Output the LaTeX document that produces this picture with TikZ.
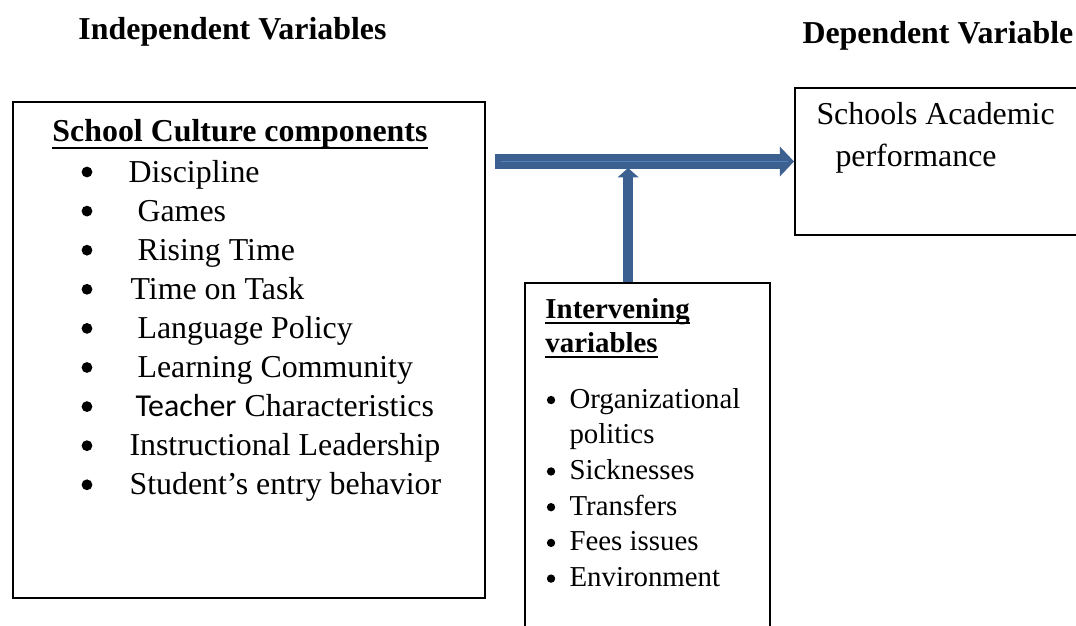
\documentclass[tikz,border=0pt]{standalone}
\usepackage{fontspec}
\setmainfont{Liberation Serif}
\newfontfamily\calibri{Carlito}
\usetikzlibrary{arrows.meta,calc}

\definecolor{arrowblue}{RGB}{60,96,144}
\definecolor{stripeblue}{RGB}{84,130,190}

\begin{document}
\begin{tikzpicture}[
  box/.style={draw, line width=0.8pt, inner sep=0pt, anchor=north west},
  txt/.style={inner sep=0pt, anchor=base west, font=\fontsize{12.6}{15}\selectfont},
  hd/.style={txt, font=\fontsize{12.6}{15}\selectfont\bfseries},
  small/.style={txt, font=\fontsize{11.4}{14}\selectfont},
  smallhd/.style={txt, font=\fontsize{11.4}{14}\selectfont\bfseries},
  uline/.style={line width=0.8pt},
  band/.style={color=arrowblue, line width=5.6pt,
    -{Triangle[length=5.6pt, width=11.8pt, line width=0pt]}},
  stem/.style={color=arrowblue, line width=3.95pt,
    -{Triangle[length=3.7pt, width=8.4pt, line width=0pt]}}]
  \useasboundingbox (0,0) rectangle (14.944,-8.694);
  \clip (0,0) rectangle (14.944,-8.694);

  % ---- column titles ----
  \node[hd] (indep) at (1.083,-0.542) {Independent Variables};
  \node[hd] (dep) at (11.139,-0.611) {Dependent Variable};

  % ---- boxes ----
  \node[box, minimum width=6.555cm, minimum height=6.889cm] (culture) at (0.167,-1.403) {};
  \node[box, minimum width=3.403cm, minimum height=4.983cm] (mediator) at (7.278,-3.917) {};
  \node[box, minimum width=4.172cm, minimum height=2.042cm] (outcome) at (11.028,-1.208) {};

  % ---- school culture list ----
  \node[hd] (cultHead) at (0.722,-1.972) {School Culture components};
  \draw[uline] ([yshift=-0.083cm]cultHead.base west) -- ([yshift=-0.083cm]cultHead.base east);
  \foreach \t/\x [count=\i] in {Discipline/1.778, Games/1.903, Rising Time/1.903,
      Time on Task/1.806, Language Policy/1.903, Learning Community/1.903,
      {{\calibri Teacher} Characteristics}/1.875, Instructional Leadership/1.792,
      Student’s entry behavior/1.792} {
    \fill (1.208,{-2.528-0.543*(\i-1)+0.139}) circle (0.075);
    \node[txt] (comp-\i) at (\x,{-2.528-0.543*(\i-1)}) {\t};
  }

  % ---- intervening list ----
  \node[smallhd] (medHead1) at (7.569,-4.417) {Intervening};
  \node[smallhd] (medHead2) at (7.569,-4.889) {variables};
  \draw[uline] ([yshift=-0.07cm]medHead1.base west) -- ([yshift=-0.07cm]medHead1.base east);
  \draw[uline] ([yshift=-0.07cm]medHead2.base west) -- ([yshift=-0.07cm]medHead2.base east);
  \foreach \t/\b [count=\i] in {Organizational/1, politics/0, Sicknesses/1,
      Transfers/1, Fees issues/1, Environment/1} {
    \ifnum\b=1
      \fill (7.653,{-5.667-0.496*(\i-1)+0.111}) circle (0.058);
    \fi
    \node[small] (med-\i) at (7.903,{-5.667-0.496*(\i-1)}) {\t};
  }

  % ---- outcome text ----
  \node[txt] (perf1) at (11.333,-1.736) {Schools Academic};
  \node[txt] (perf2) at (11.597,-2.319) {performance};

  % ---- block arrows ----
  \draw[band, postaction={draw=stripeblue, line width=0.7pt, -, shorten <=0.083cm, shorten >=0.09cm}]
    ($(culture.east |- outcome.west)+(0.125,0)$) -- (outcome.west);
  \coordinate (meet) at ($(mediator.north)+(-0.27,1.583)$);
  \draw[stem] ($(mediator.north)+(-0.27,0)$) -- (meet);
\end{tikzpicture}
\end{document}
